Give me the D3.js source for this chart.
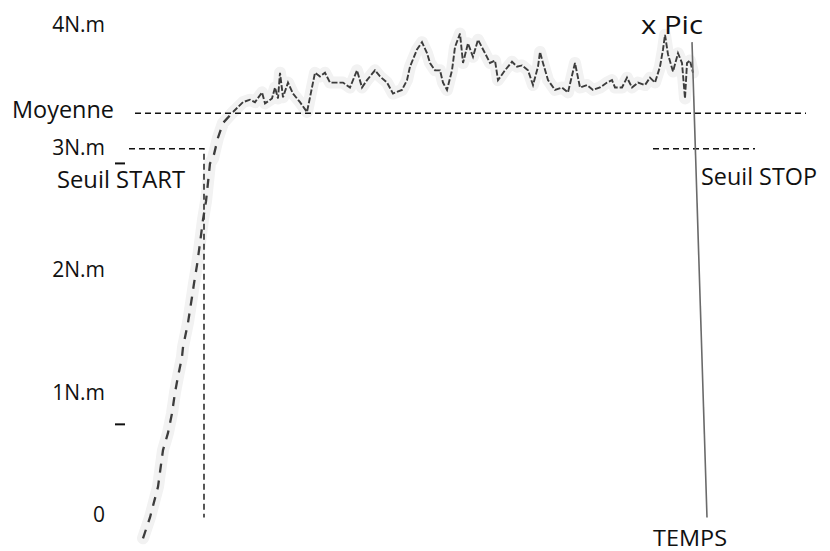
<!DOCTYPE html>
<html><head><meta charset="utf-8">
<script src="https://cdn.jsdelivr.net/npm/d3@7"></script>
<style>
html,body{margin:0;padding:0;background:#fff;}
svg{display:block;font-family:"Open Sans",sans-serif;}
</style></head>
<body>
<svg id="chart" width="830" height="551"></svg>
<script>
// time (arbitrary units) and torque (N.m)
const riseTime   = [43,50,58,63,68,72,75,78,82,83,88,92,94,97,100,103,106,110,113,118,123,133];
const riseTorque = [-0.19,-0.02,0.23,0.53,0.67,0.83,1.00,1.13,1.29,1.37,1.57,1.78,1.89,2.04,2.22,2.41,2.56,2.87,2.91,3.08,3.20,3.29];
const plateauTime = [133,143,150,155,162,165,172,175,178,180,183,188,193,200,207,210,215,220,225,230,237,243,250,257,262,267,275,280,287,293,302,307,310,317,322,327,330,335,340,343,347,352,355,360,363,368,373,378,385,390,395,398,405,412,417,422,428,433,438,440,443,448,455,462,468,475,480,487,493,500,507,512,515,522,527,532,538,545,550,555,560,563,565,568,573,578,582,585,587,590,593];
const plateauTorque = [3.29,3.37,3.39,3.37,3.45,3.36,3.40,3.49,3.40,3.61,3.41,3.53,3.44,3.37,3.29,3.41,3.61,3.58,3.61,3.53,3.53,3.53,3.49,3.63,3.49,3.55,3.63,3.58,3.53,3.44,3.47,3.55,3.66,3.80,3.86,3.77,3.69,3.63,3.63,3.53,3.47,3.63,3.82,3.93,3.69,3.85,3.74,3.88,3.77,3.69,3.71,3.55,3.63,3.70,3.66,3.67,3.63,3.51,3.66,3.78,3.69,3.55,3.47,3.49,3.45,3.69,3.49,3.51,3.47,3.49,3.53,3.55,3.49,3.49,3.57,3.49,3.53,3.51,3.57,3.53,3.66,3.80,3.92,3.76,3.62,3.77,3.69,3.40,3.69,3.71,3.61];
const tickValues = [0,1,2,3,4];
const tickLabels = ["0","1N.m","2N.m","3N.m","4N.m"];
const moyenne = 3.28;
const moyenneSpan = [35,706];
const seuil = 2.99;
const seuilStartSpan = [29,104];
const seuilStopSpan = [553,655];
const tempsLineTime = [592,607];
const tempsLineTorque = [3.86,-0.02];
const markTorque = [2.87,0.74];
const markSpan = [15,25];

const svg = d3.select("#chart");
const x = d3.scaleLinear().domain([0,700]).range([100,800]);
const y = d3.scaleLinear().domain([0,4]).range([515,25]);
const line = d3.line().x(d=>x(d[0])).y(d=>y(d[1]));

const rise = riseTime.map((t,i)=>[t,riseTorque[i]]);
const plateau = plateauTime.map((t,i)=>[t,plateauTorque[i]]);

// faint halo around the trace
svg.append("path").attr("d",line(rise.concat(plateau.slice(1))))
  .attr("fill","none").attr("stroke","#f2f2f2").attr("stroke-width",12)
  .attr("stroke-linejoin","round").attr("stroke-linecap","round");

// dashed reference lines
const dash = svg.append("g").attr("fill","none").attr("stroke","#111").attr("stroke-width",1.4).attr("stroke-dasharray","6,4");
dash.append("path").attr("d",line([[moyenneSpan[0],moyenne],[moyenneSpan[1],moyenne]]));
dash.append("path").attr("d",line([[seuilStartSpan[0],seuil],[seuilStartSpan[1],seuil],[seuilStartSpan[1],-0.02]]));
dash.append("path").attr("d",line([[seuilStopSpan[0],seuil],[seuilStopSpan[1],seuil]]));

// trace
svg.append("path").attr("d",line(rise)).attr("fill","none").attr("stroke","#3c3c3c")
  .attr("stroke-width",2.3).attr("stroke-dasharray","9,8");
svg.append("path").attr("d",line(plateau)).attr("fill","none").attr("stroke","#3c3c3c")
  .attr("stroke-width",1.9).attr("stroke-dasharray","6,2");

// time marker line
svg.append("path").attr("d",line(tempsLineTime.map((t,i)=>[t,tempsLineTorque[i]])))
  .attr("fill","none").attr("stroke","#6a6a6a").attr("stroke-width",1.6);

// small marks
markTorque.forEach(v=>{
  svg.append("path").attr("d",line([[markSpan[0],v],[markSpan[1],v]])).attr("stroke","#111").attr("stroke-width",2);
});

// axis labels
svg.append("g").selectAll("text").data(tickValues).join("text")
  .attr("x",105).attr("y",d=>y(d)+7).attr("text-anchor","end")
  .attr("font-size",21).attr("fill","#111").text((d,i)=>tickLabels[i]);

const lab = (txt,xx,yy,fs,tl)=>{
  const t = svg.append("text").attr("x",xx).attr("y",yy).attr("font-size",fs).attr("fill","#111").text(txt);
  if(tl) t.attr("textLength",tl).attr("lengthAdjust","spacingAndGlyphs");
  return t;
};
lab("Moyenne",12,118,23,102);
lab("Seuil START",57,188,23,128);
lab("Seuil STOP",701,185,23,116);
lab("TEMPS",653,546,22,74);
lab("x Pic",641,34,25,62);
</script>
</body></html>
